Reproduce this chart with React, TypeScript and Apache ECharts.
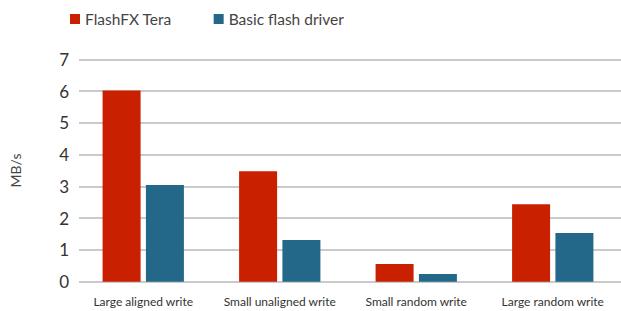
import React, { useEffect, useRef } from "react";
import * as echarts from "echarts";

const categories = ["Large aligned write", "Small unaligned write", "Small random write", "Large random write"];
const seriesNames = ["FlashFX Tera", "Basic flash driver"];
const teraValues = [6.02, 3.48, 0.56, 2.44];
const basicValues = [3.04, 1.31, 0.24, 1.53];
const colors = ["#C92100", "#236889"];

export default function App() {
  const ref = useRef<HTMLDivElement>(null);
  useEffect(() => {
    if (!ref.current) return;
    const chart = echarts.init(ref.current, null, { renderer: "svg" });
    const font = "Lato, 'Open Sans', sans-serif";
    chart.setOption({
      animation: false,
      textStyle: { fontFamily: font },
      legend: {
        data: seriesNames,
        left: 65,
        top: 6,
        itemWidth: 10,
        itemHeight: 10,
        itemGap: 42,
        icon: "rect",
        textStyle: { fontSize: 15.5, color: "#444", fontFamily: font },
      },
      grid: [
        { left: 68, top: 59.3, right: -11, height: 222.4 },
        { left: 79, top: 59.3, right: 0, height: 222.4 },
      ],
      xAxis: [
        {
          type: "category",
          gridIndex: 0,
          data: categories,
          axisLine: { show: false },
          axisTick: { show: false },
          axisLabel: { interval: 0, margin: 14, fontSize: 12, color: "#333", fontFamily: font },
        },
        { type: "category", gridIndex: 1, data: categories, show: false },
      ],
      yAxis: [
        {
          type: "value",
          gridIndex: 0,
          min: 0,
          max: 7,
          interval: 1,
          name: "MB/s",
          nameLocation: "middle",
          nameGap: 53,
          nameTextStyle: { fontSize: 14, color: "#444", fontFamily: font },
          splitLine: { show: false },
          axisLine: { show: false },
          axisTick: { show: false },
          axisLabel: { margin: 6, fontSize: 17, color: "#333", fontFamily: font },
        },
        {
          type: "value",
          gridIndex: 1,
          min: 0,
          max: 7,
          interval: 1,
          axisLine: { show: false },
          axisTick: { show: false },
          axisLabel: { show: false },
          splitLine: { show: true, lineStyle: { color: "#b9b9b9", width: 1.5 } },
        },
      ],
      series: [
        {
          name: seriesNames[0],
          type: "bar",
          xAxisIndex: 0,
          yAxisIndex: 0,
          data: teraValues,
          barWidth: 38,
          barGap: "14%",
          itemStyle: { color: colors[0] },
          z: 3,
        },
        {
          name: seriesNames[1],
          type: "bar",
          xAxisIndex: 0,
          yAxisIndex: 0,
          data: basicValues,
          barWidth: 38,
          barGap: "14%",
          itemStyle: { color: colors[1] },
          z: 3,
        },
      ],
    });
    return () => chart.dispose();
  }, []);
  return <div ref={ref} style={{ width: 621, height: 311, position: "absolute", left: 0, top: 0 }} />;
}
